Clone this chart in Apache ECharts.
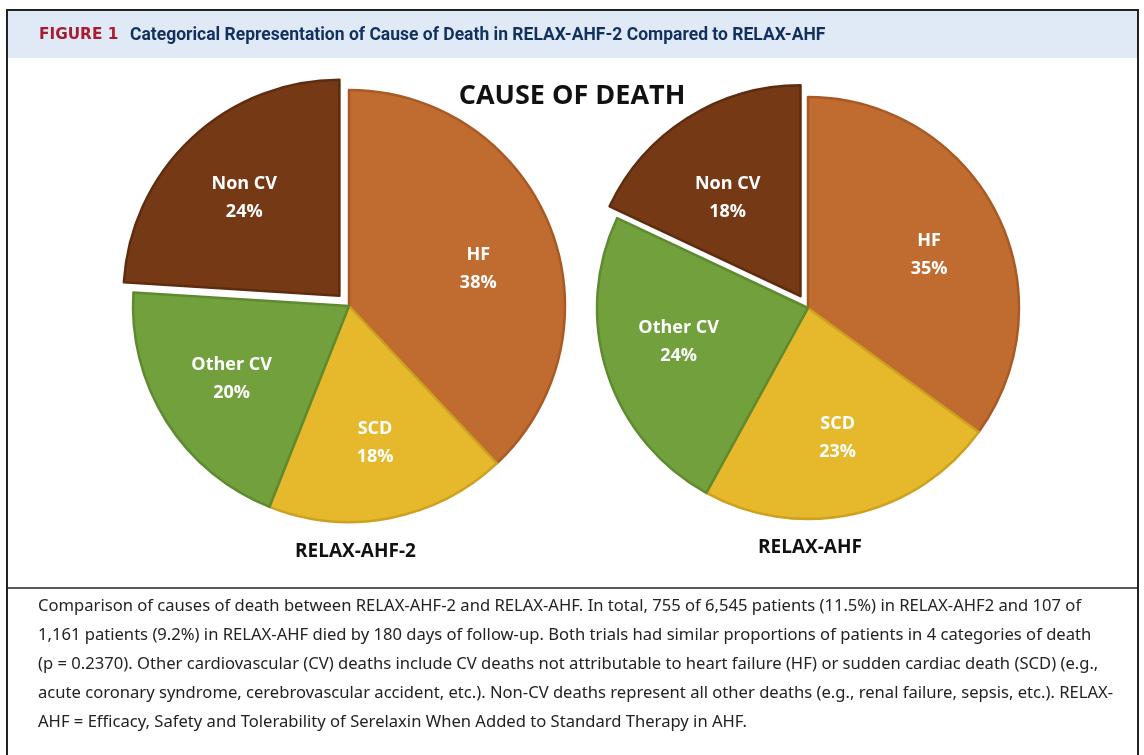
<!DOCTYPE html>
<html>
<head>
<meta charset="utf-8">
<script src="https://cdn.jsdelivr.net/npm/echarts@6/dist/echarts.min.js"></script>
<style>
  html, body { margin: 0; padding: 0; background: #fff; }
  #chart { width: 1144px; height: 755px; }
</style>
</head>
<body>
<div id="chart"></div>
<script>
// categories and values
var causes = ['HF', 'SCD', 'Other CV', 'Non CV'];
var relaxAhf2 = [38, 18, 20, 24];
var relaxAhf = [35, 23, 24, 18];
var trialNames = ['RELAX-AHF-2', 'RELAX-AHF'];

var fills = ['#C06C30', '#E6B82B', '#72A03D', '#763915'];
var edges = ['#A95A24', '#CDA020', '#5F8A2F', '#5E2C0E'];

// small vertical nudges of the data labels, as placed in the original
var labelNudge2 = [14, 0, -2, 3];
var labelNudge1 = [9, -3, -8, 17];

var captionLines = [
    'Comparison of causes of death between RELAX-AHF-2 and RELAX-AHF. In total, 755 of 6,545 patients (11.5%) in RELAX-AHF2 and 107 of',
    '1,161 patients (9.2%) in RELAX-AHF died by 180 days of follow-up. Both trials had similar proportions of patients in 4 categories of death',
    '(p = 0.2370). Other cardiovascular (CV) deaths include CV deaths not attributable to heart failure (HF) or sudden cardiac death (SCD) (e.g.,',
    'acute coronary syndrome, cerebrovascular accident, etc.). Non-CV deaths represent all other deaths (e.g., renal failure, sepsis, etc.). RELAX-',
    'AHF = Efficacy, Safety and Tolerability of Serelaxin When Added to Standard Therapy in AHF.'
];

var myChart = echarts.init(document.getElementById('chart'));

function buildData(values) {
    return values.map(function (v, i) {
        return {
            name: causes[i],
            value: v,
            selected: causes[i] === 'Non CV',
            itemStyle: { color: fills[i], borderColor: edges[i] }
        };
    });
}

function pieSeries(values, center, r, nudge) {
    return [{
        type: 'pie',
        center: center,
        radius: r,
        startAngle: 90,
        clockwise: true,
        selectedMode: 'single',
        selectedOffset: 14,
        silent: true,
        animation: false,
        itemStyle: { borderWidth: 2.5 },
        label: { show: false },
        labelLine: { show: false },
        data: buildData(values)
    }, {
        // transparent ring, only used to put the labels a bit further out
        type: 'pie',
        center: center,
        radius: [Math.round(r * 0.26), r],
        startAngle: 90,
        clockwise: true,
        selectedMode: 'single',
        selectedOffset: 14,
        silent: true,
        animation: false,
        itemStyle: { color: 'transparent', borderWidth: 0 },
        label: {
            show: true,
            position: 'inside',
            formatter: '{b}\n{c}%',
            color: '#fff',
            fontFamily: 'Open Sans',
            fontWeight: 'bold',
            fontSize: 18,
            lineHeight: 28
        },
        labelLayout: function (params) {
            return { dy: nudge[params.dataIndex] };
        },
        labelLine: { show: false },
        data: buildData(values).map(function (d) {
            d.itemStyle = { color: 'transparent' };
            return d;
        })
    }];
}

var graphics = [
    // figure frame
    { type: 'rect', shape: { x: 7, y: 10, width: 1131, height: 760 },
      style: { fill: '#fff', stroke: '#222', lineWidth: 2 }, z: -10 },
    { type: 'rect', shape: { x: 8, y: 11, width: 1129, height: 47 },
      style: { fill: '#DFEAF6' }, z: -9 },
    { type: 'line', shape: { x1: 7, y1: 588, x2: 1138, y2: 588 },
      style: { stroke: '#222', lineWidth: 1.5 } },
    { type: 'text', left: 39, top: 28,
      style: { text: 'FIGURE 1', fill: '#A81C32', font: 'bold 15.3px "DejaVu Sans"' } },
    { type: 'text', left: 130, top: 27,
      style: { text: 'Categorical Representation of Cause of Death in RELAX-AHF-2 Compared to RELAX-AHF',
               fill: '#12305E', font: 'bold 17.5px Roboto' } },
    // trial names under each pie
    { type: 'text', left: 295, top: 542,
      style: { text: trialNames[0], fill: '#111', font: 'bold 19px "Open Sans"' } },
    { type: 'text', left: 758, top: 538,
      style: { text: trialNames[1], fill: '#111', font: 'bold 19px "Open Sans"' } }
];

captionLines.forEach(function (line, i) {
    graphics.push({
        type: 'text', left: 38, top: 598 + i * 29,
        style: { text: line, fill: '#222', font: '16.6px "Noto Sans"' }
    });
});

option = {
    backgroundColor: '#fff',
    title: {
        text: 'CAUSE OF DEATH',
        left: 'center',
        top: 78,
        textStyle: { fontFamily: 'Open Sans', fontWeight: 'bold', fontSize: 27, color: '#111' }
    },
    graphic: graphics,
    series: pieSeries(relaxAhf2, [349, 306], 216, labelNudge2)
        .concat(pieSeries(relaxAhf, [808, 308], 211, labelNudge1))
};

myChart.setOption(option);
</script>
</body>
</html>
